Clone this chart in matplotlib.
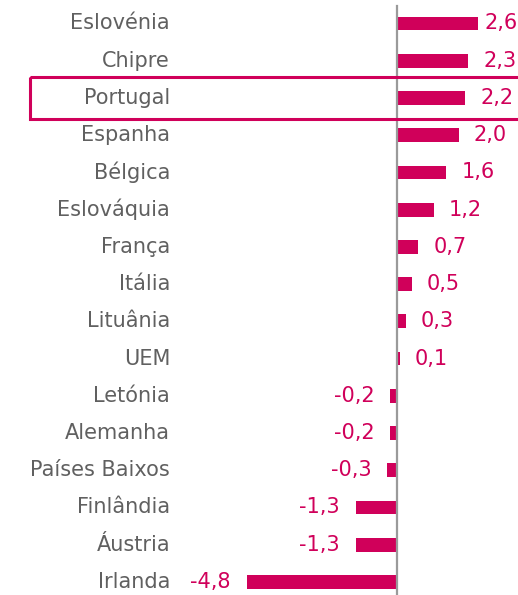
import matplotlib

matplotlib.use("Agg")
import matplotlib.pyplot as plt
from matplotlib.patches import Rectangle
from matplotlib.transforms import offset_copy

countries = ["Eslovénia", "Chipre", "Portugal", "Espanha", "Bélgica", "Eslováquia",
             "França", "Itália", "Lituânia", "UEM", "Letónia", "Alemanha",
             "Países Baixos", "Finlândia", "Áustria", "Irlanda"]
values = [2.6, 2.3, 2.2, 2.0, 1.6, 1.2, 0.7, 0.5, 0.3, 0.1,
          -0.2, -0.2, -0.3, -1.3, -1.3, -4.8]
highlight = "Portugal"

MAG, GREY, AXIS = "#D0005A", "#606060", "#9a9a9a"
plt.rcParams["font.family"] = ["DejaVu Sans"]
FS = 15

W, H, DPI = 518, 595, 100
fig = plt.figure(figsize=(W / DPI, H / DPI), dpi=DPI)
ax = fig.add_axes([0, 0, 1, 1])
ax.axis("off")

# pixel layout -> data limits
px_unit, zero_px = 31.2, 396.5
row_px, top_px = 37.23, 23.5
n = len(countries)
ax.set_xlim(-zero_px / px_unit, (W - zero_px) / px_unit)
ax.set_ylim(n - 1 + (H - top_px - (n - 1) * row_px) / row_px, -top_px / row_px)

ys = list(range(n))
ax.barh(ys, values, height=0.37, color=MAG, zorder=2)
ax.plot([0, 0], [-0.48, n + 1], color=AXIS, lw=1.6, zorder=3)

# country labels
lab_x = (170 - zero_px) / px_unit
for y, name in zip(ys, countries):
    ax.text(lab_x, y, name, ha="right", va="center", fontsize=FS, color=GREY)

# value labels
vmax = max(values)
for y, v in zip(ys, values):
    s = f"{v:.1f}".replace(".", ",")
    if v == vmax:
        ax.text(1.0, y, s, transform=ax.get_yaxis_transform(), ha="right",
                va="center", fontsize=FS, color=MAG)
        continue
    dx = 15 if v >= 0 else -16
    tr = offset_copy(ax.transData, fig=fig, x=dx * 72 / DPI, y=0, units="points")
    ax.text(v, y, s, transform=tr, ha="left" if v >= 0 else "right",
            va="center", fontsize=FS, color=MAG)

# highlight box
hi = countries.index(highlight)
x0 = (30 - zero_px) / px_unit
ax.add_patch(Rectangle((x0, hi - 0.56), 20, 1.12, fill=False, ec=MAG, lw=2.2,
                       zorder=4, clip_on=True))

fig.savefig("out.png", dpi=DPI, facecolor="white")
